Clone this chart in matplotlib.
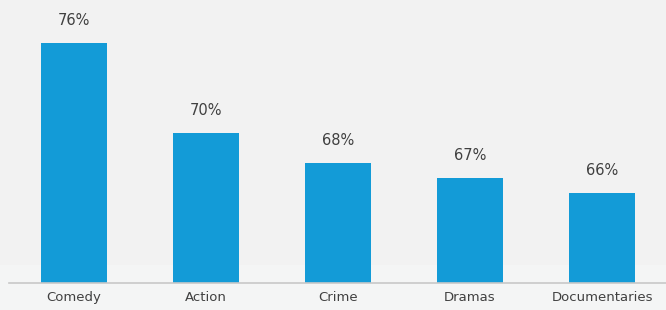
import matplotlib.pyplot as plt
from matplotlib.patches import Rectangle

categories = ['Comedy', 'Action', 'Crime', 'Dramas', 'Documentaries']
values = [76, 70, 68, 67, 66]
labels = ['76%', '70%', '68%', '67%', '66%']

fig = plt.figure(figsize=(6.66, 3.10), dpi=100)
fig.patch.set_facecolor('#f2f2f2')
# lighter strip at the bottom
fig.patches.append(Rectangle((0, 0), 1, 45 / 310, transform=fig.transFigure,
                             facecolor='#f4f5f5', edgecolor='none', zorder=-1))

ax = fig.add_axes([0, 27 / 310, 1, 283 / 310])
ax.set_facecolor('none')
ax.set_zorder(1)

x = list(range(len(categories)))
ax.bar(x, values, width=0.5, bottom=0, color='#139bd7', zorder=2)

for xi, v, lab in zip(x, values, labels):
    ax.text(xi, v + 1.5, lab, ha='center', va='center', fontsize=10.5, color='#404040')

ax.set_ylim(60, 60 + 283 / 15)
ax.set_xlim(-74 / 132, (666 - 74) / 132)
ax.axhline(60, xmin=9 / 666, xmax=1, color='#c8c8c8', lw=1.2, zorder=3, clip_on=False)

ax.set_xticks(x)
ax.set_xticklabels(categories, fontsize=9.5, color='#404040')
ax.tick_params(axis='x', length=0, pad=6)
ax.set_yticks([])
for s in ax.spines.values():
    s.set_visible(False)

fig.savefig('out.png', dpi=100, facecolor=fig.get_facecolor())
